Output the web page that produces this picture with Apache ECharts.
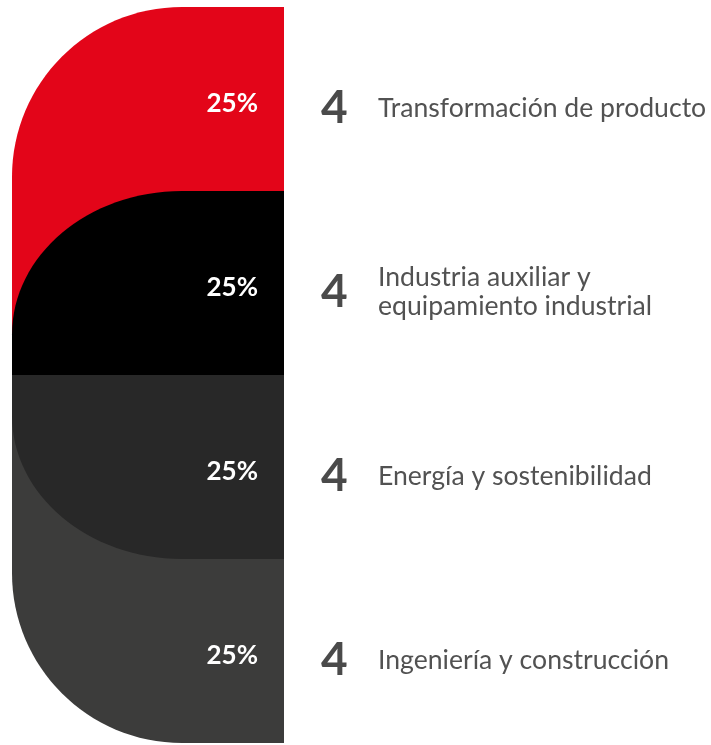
<!DOCTYPE html>
<html lang="es" style="height: 100%">
<head>
    <meta charset="utf-8">
    <meta name="viewport" content="width=device-width, initial-scale=1.0">
</head>
<body style="height: 100%; margin: 0; overflow: hidden; background: #fff">
<div id="container" style="height: 100%; width: 100%"></div>

<script type="text/javascript" src="https://cdn.jsdelivr.net/npm/echarts@6/dist/echarts.min.js"></script>

<script type="text/javascript">
    // datos
    var sectores = [
      'Transformación de producto',
      'Industria auxiliar y\nequipamiento industrial',
      'Energía y sostenibilidad',
      'Ingeniería y construcción'
    ];
    var empresas = [4, 4, 4, 4];
    var porcentajes = [25, 25, 25, 25];
    var colores = ['#e30519', '#000000', '#282828', '#3c3c3b'];

    var dom = document.getElementById('container');
    var myChart = echarts.init(dom, null, {
      renderer: 'canvas',
      useDirtyRect: false
    });

    var K = 0.5523; // bezier para cuarto de elipse

    function cornerPath(x0, y0, x1, y1, rx, ry, top) {
      if (top) {
        return 'M' + x0 + ' ' + (y0 + ry) +
          ' C' + x0 + ' ' + (y0 + ry - K * ry) + ' ' + (x0 + rx - K * rx) + ' ' + y0 + ' ' + (x0 + rx) + ' ' + y0 +
          ' L' + x1 + ' ' + y0 + ' L' + x1 + ' ' + y1 + ' L' + x0 + ' ' + y1 + ' Z';
      }
      return 'M' + x0 + ' ' + y0 + ' L' + x1 + ' ' + y0 + ' L' + x1 + ' ' + y1 +
        ' L' + (x0 + rx) + ' ' + y1 +
        ' C' + (x0 + rx - K * rx) + ' ' + y1 + ' ' + x0 + ' ' + (y1 - ry + K * ry) + ' ' + x0 + ' ' + (y1 - ry) + ' Z';
    }

    function renderItem(params, api) {
      var i = api.value(1);
      var n = sectores.length;
      var start = api.coord([0, i]);
      var end = api.coord([api.value(0), i]);
      var h = api.size([0, 1])[1];
      var x0 = start[0], x1 = end[0], cy = start[1];
      var top = i < n / 2;
      var rx = (x1 - x0) * 0.625;
      var inner = h * 0.78;
      var y0 = cy - h / 2, y1 = cy + h / 2;
      var ry = inner;
      // las piezas de los extremos se alargan bajo la curva de la vecina
      if (i === 0) { y1 += inner; ry = rx; }
      if (i === n - 1) { y0 -= inner; ry = rx; }

      return {
        type: 'group',
        children: [
          {
            type: 'path',
            z2: top ? i : n - i,
            shape: { pathData: cornerPath(x0, y0, x1, y1, rx, ry, top) },
            style: { fill: colores[i] }
          },
          {
            type: 'text',
            z2: 20,
            x: x1 - 26,
            y: cy + 5,
            style: {
              text: api.value(0) + '%',
              fill: '#ffffff',
              fontFamily: 'Lato',
              fontWeight: 'bold',
              fontSize: 26,
              align: 'right',
              verticalAlign: 'middle'
            }
          },
          {
            type: 'text',
            z2: 20,
            x: x1 + 37,
            y: cy + 9,
            style: {
              text: String(api.value(2)),
              fill: '#4a4a4a',
              fontFamily: 'Lato',
              fontWeight: 'bold',
              fontSize: 46,
              align: 'left',
              verticalAlign: 'middle'
            }
          },
          {
            type: 'text',
            z2: 20,
            x: x1 + 94,
            y: cy + 9,
            style: {
              text: sectores[i],
              fill: '#525252',
              fontFamily: 'Lato',
              fontSize: 26.6,
              lineHeight: 29,
              align: 'left',
              verticalAlign: 'middle'
            }
          }
        ]
      };
    }

    var option = {
      animation: false,
      grid: { left: 12, right: 427, top: 7, bottom: 2 },
      xAxis: { type: 'value', min: 0, max: 25, show: false },
      yAxis: { type: 'category', data: sectores, inverse: true, show: false },
      series: [
        {
          type: 'custom',
          renderItem: renderItem,
          encode: { x: 0, y: 1 },
          data: porcentajes.map(function (p, i) { return [p, i, empresas[i]]; })
        }
      ]
    };

    myChart.setOption(option);
    window.addEventListener('resize', myChart.resize);
</script>
</body>
</html>
